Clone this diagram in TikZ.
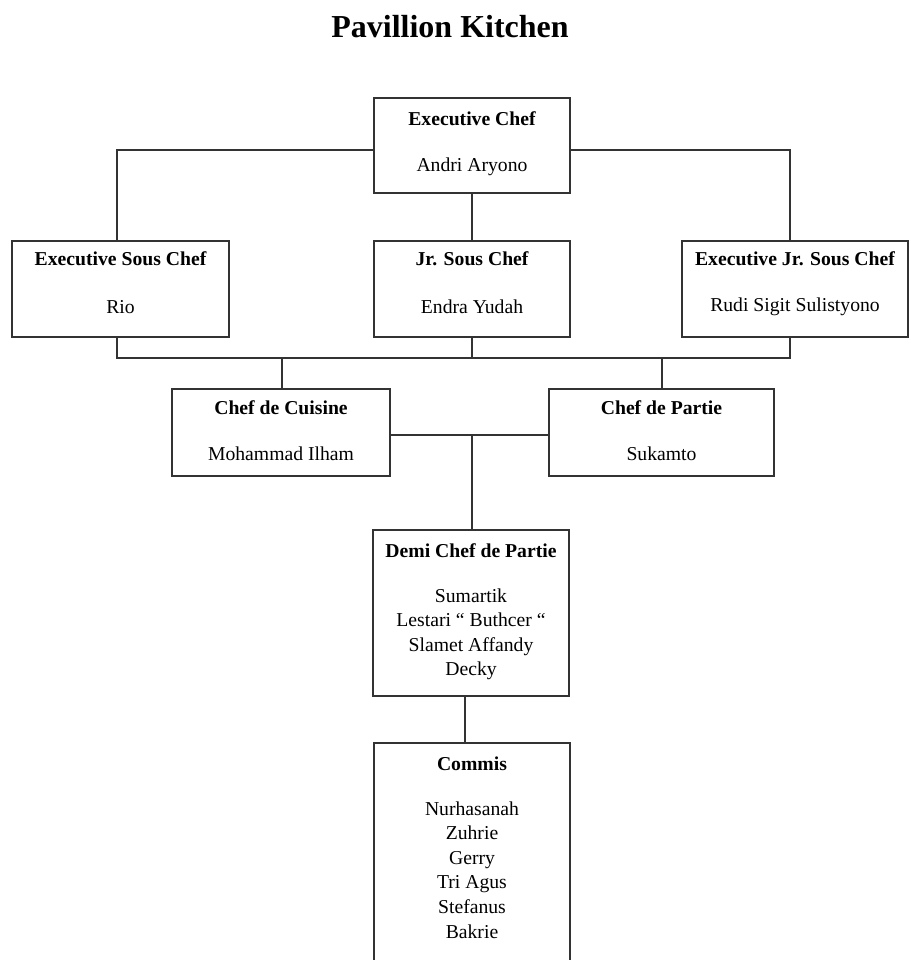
\documentclass[tikz,border=0pt]{standalone}
\usepackage{fontspec}
\setmainfont{Liberation Serif}
\begin{document}
\begin{tikzpicture}[x=0.02cm,y=-0.02cm,
  box/.style={draw=black!80,line width=0.8pt,rectangle,inner sep=0pt},
  ttl/.style={font=\fontsize{11.2}{14}\selectfont\bfseries,inner sep=0pt},
  nm/.style={font=\fontsize{11.2}{14}\selectfont,inner sep=0pt,align=center},
  ln/.style={draw=black!80,line width=0.8pt}]
\useasboundingbox (0,0) rectangle (910,960);
\node[font=\fontsize{18.2}{22}\selectfont\bfseries,inner sep=0pt] (title) at (450,27) {Pavillion Kitchen};
% boxes
\node[box,minimum width=196*0.02cm,minimum height=95*0.02cm] (ec) at (472,145.5) {};
\node[box,minimum width=217*0.02cm,minimum height=96*0.02cm] (esc) at (120.5,289) {};
\node[box,minimum width=196*0.02cm,minimum height=96*0.02cm] (jsc) at (472,289) {};
\node[box,minimum width=226*0.02cm,minimum height=96*0.02cm] (ejsc) at (795,289) {};
\node[box,minimum width=218*0.02cm,minimum height=87*0.02cm] (cdc) at (281,432.5) {};
\node[box,minimum width=225*0.02cm,minimum height=87*0.02cm] (cdp) at (661.5,432.5) {};
\node[box,minimum width=196*0.02cm,minimum height=166*0.02cm] (dcp) at (471,613) {};
\node[box,minimum width=196*0.02cm,minimum height=254*0.02cm] (com) at (472,870) {};
% texts
\node[ttl] (t1) at (472,119) {Executive Chef};
\node[nm] (n1) at (472,167) {Andri Aryono};
\node[ttl] (t2) at (120.5,259) {Executive Sous Chef};
\node[nm] (n2) at (120.5,307) {Rio};
\node[ttl] (t3) at (472,259) {Jr. Sous Chef};
\node[nm] (n3) at (472,307) {Endra Yudah};
\node[ttl] (t4) at (795,259) {Executive Jr. Sous Chef};
\node[nm] (n4) at (795,307) {Rudi Sigit Sulistyono};
\node[ttl] (t5) at (281,408) {Chef de Cuisine};
\node[nm] (n5) at (281,454) {Mohammad Ilham};
\node[ttl] (t6) at (661.5,408) {Chef de Partie};
\node[nm] (n6) at (661.5,454) {Sukamto};
\node[ttl] (t7) at (471,551) {Demi Chef de Partie};
\node[nm,anchor=north] (n7) at (471,588) {Sumartik\\Lestari `` Buthcer ``\\Slamet Affandy\\Decky};
\node[ttl] (t8) at (472,764) {Commis};
\node[nm,anchor=north] (n8) at (472,801) {Nurhasanah\\Zuhrie\\Gerry\\Tri Agus\\Stefanus\\Bakrie};
% connectors
\coordinate (ecL) at (374,150);
\coordinate (ecR) at (570,150);
\coordinate (xl) at (117,0);
\coordinate (xr) at (790,0);
\coordinate (xc) at (282,0);
\coordinate (xp) at (662,0);
\draw[ln] (ecL) -| (xl |- esc.north);
\draw[ln] (ecR) -| (xr |- ejsc.north);
\draw[ln] (ec.south) -- (jsc.north);
\coordinate (bus) at (472,358);
\draw[ln] (xl |- esc.south) |- (bus) -| (xr |- ejsc.south);
\draw[ln] (jsc.south) -- (bus);
\draw[ln] (xc |- cdc.north) -- (xc |- bus);
\draw[ln] (xp |- cdp.north) -- (xp |- bus);
\coordinate (mid) at (472,435);
\draw[ln] (cdc.east |- mid) -- (cdp.west |- mid);
\draw[ln] (mid) -- (mid |- dcp.north);
\coordinate (d1) at (465,696);
\coordinate (d2) at (465,743);
\draw[ln] (d1) -- (d2);
\end{tikzpicture}
\end{document}
